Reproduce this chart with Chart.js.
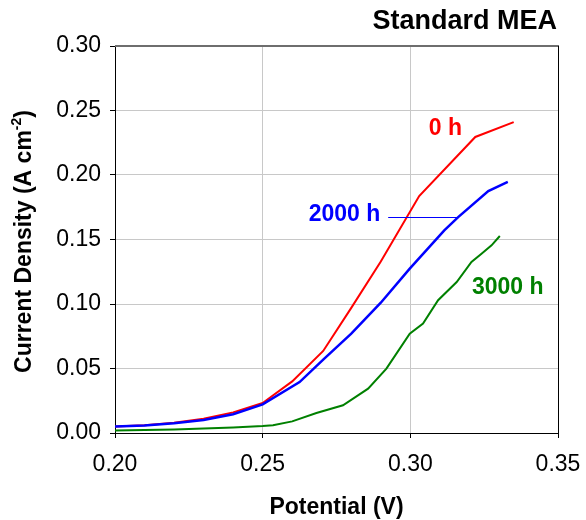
<!DOCTYPE html>
<html>
<head>
<meta charset="utf-8">
<script src="https://cdn.jsdelivr.net/npm/chart.js@4.4.0/dist/chart.umd.min.js"></script>
<style>
html,body{margin:0;padding:0;background:#fff;}
#wrap{width:586px;height:520px;position:relative;}
</style>
</head>
<body>
<div id="wrap"><canvas id="c" width="586" height="520"></canvas></div>
<script>
// ---- data ----
const potential0h = [0.200, 0.210, 0.220, 0.230, 0.240, 0.250, 0.260, 0.2705, 0.280, 0.290, 0.303, 0.322, 0.335];
const current0h   = [0.0050, 0.0060, 0.0080, 0.0110, 0.0160, 0.0233, 0.0400, 0.0636, 0.0970, 0.1330, 0.1837, 0.2295, 0.2410];

const potential2000h = [0.200, 0.210, 0.220, 0.230, 0.240, 0.250, 0.2625, 0.2705, 0.280, 0.290, 0.2998, 0.3115, 0.3162, 0.3264, 0.333];
const current2000h   = [0.0050, 0.0058, 0.0076, 0.0100, 0.0145, 0.0222, 0.0395, 0.0569, 0.0770, 0.1010, 0.1274, 0.1570, 0.1674, 0.1876, 0.1946];

const potential3000h = [0.200, 0.220, 0.240, 0.250, 0.2535, 0.260, 0.2682, 0.2772, 0.2857, 0.2919, 0.2998, 0.3043, 0.3094, 0.3157, 0.3207, 0.3241, 0.3275, 0.3303];
const current3000h   = [0.0020, 0.0028, 0.0042, 0.0054, 0.0060, 0.0090, 0.0155, 0.0215, 0.0344, 0.0499, 0.0770, 0.0848, 0.1029, 0.1170, 0.1326, 0.1390, 0.1455, 0.1527];

const xTickValues = [0.20, 0.25, 0.30, 0.35];
const yTickValues = [0.00, 0.05, 0.10, 0.15, 0.20, 0.25, 0.30];

const seriesLabels = ["0 h", "2000 h", "3000 h"];
const chartTitle = "Standard MEA";
const xTitle = "Potential (V)";
const yTitleMain = "Current Density (A cm";
const yTitleSup = "-2";

function pairs(xs, ys){ return xs.map((x,i)=>({x:x, y:ys[i]})); }

const FONT = "'Liberation Sans', Arial, sans-serif";

const decor = {
  id: 'decor',
  afterDatasetsDraw(chart){
    const ctx = chart.ctx, a = chart.chartArea;
    const xs = chart.scales.x, ys = chart.scales.y;
    ctx.save();
    // top border (gray) and right border (black)
    ctx.strokeStyle = '#6e6e6e'; ctx.lineWidth = 2;
    ctx.beginPath(); ctx.moveTo(a.left, a.top); ctx.lineTo(a.right+1, a.top); ctx.stroke();
    ctx.strokeStyle = '#000'; ctx.lineWidth = 1;
    ctx.beginPath(); ctx.moveTo(a.right+0.5, a.top); ctx.lineTo(a.right+0.5, a.bottom+5); ctx.stroke();

    // chart title
    ctx.fillStyle = '#000';
    ctx.font = "bold 27px " + FONT;
    ctx.textAlign = 'right'; ctx.textBaseline = 'middle';
    ctx.fillText(chartTitle, 557, 22);

    // x title
    ctx.font = "bold 23px " + FONT;
    ctx.textAlign = 'center';
    ctx.fillText(xTitle, (a.left + a.right)/2, 508);

    // y title with superscript
    ctx.save();
    ctx.translate(25, (a.top + a.bottom)/2 + 2);
    ctx.rotate(-Math.PI/2);
    ctx.font = "bold 23px " + FONT;
    const w1 = ctx.measureText(yTitleMain).width;
    const w3 = ctx.measureText(")").width;
    ctx.font = "bold 14px " + FONT;
    const w2 = ctx.measureText(yTitleSup).width;
    const tot = w1 + w2 + w3;
    let px = -tot/2;
    ctx.textAlign = 'left'; ctx.textBaseline = 'middle';
    ctx.font = "bold 23px " + FONT;
    ctx.fillText(yTitleMain, px, 0); px += w1;
    ctx.font = "bold 14px " + FONT;
    ctx.fillText(yTitleSup, px, -8); px += w2;
    ctx.font = "bold 23px " + FONT;
    ctx.fillText(")", px, 0);
    ctx.restore();

    // series labels
    ctx.font = "bold 23px " + FONT;
    ctx.textAlign = 'center'; ctx.textBaseline = 'middle';
    ctx.fillStyle = '#ff0000';
    ctx.fillText(seriesLabels[0], xs.getPixelForValue(0.3119), ys.getPixelForValue(0.236));
    ctx.fillStyle = '#0000ff';
    ctx.fillText(seriesLabels[1], xs.getPixelForValue(0.2777), ys.getPixelForValue(0.1695));
    ctx.fillStyle = '#008000';
    ctx.fillText(seriesLabels[2], xs.getPixelForValue(0.3330), ys.getPixelForValue(0.1130));
    // leader line for 2000 h
    ctx.strokeStyle = '#0000ff'; ctx.lineWidth = 1;
    const ly = Math.round(ys.getPixelForValue(0.1674)) + 0.5;
    ctx.beginPath();
    ctx.moveTo(xs.getPixelForValue(0.2925), ly);
    ctx.lineTo(xs.getPixelForValue(0.3162), ly);
    ctx.stroke();
    ctx.restore();
  }
};

new Chart(document.getElementById('c'), {
  type: 'scatter',
  data: {
    datasets: [
      { label: seriesLabels[1], data: pairs(potential2000h, current2000h), showLine: true, borderColor: '#0000ff', borderWidth: 2.5, pointRadius: 0, tension: 0 },
      { label: seriesLabels[0], data: pairs(potential0h, current0h), showLine: true, borderColor: '#ff0000', borderWidth: 2, pointRadius: 0, tension: 0 },
      { label: seriesLabels[2], data: pairs(potential3000h, current3000h), showLine: true, borderColor: '#008000', borderWidth: 2, pointRadius: 0, tension: 0 }
    ]
  },
  options: {
    responsive: false,
    animation: false,
    devicePixelRatio: 1,
    layout: { padding: { left: 0, top: 46, right: 28, bottom: 37 } },
    plugins: { legend: { display: false }, tooltip: { enabled: false } },
    scales: {
      x: {
        type: 'linear', min: 0.20, max: 0.35,
        afterBuildTicks(s){ s.ticks = xTickValues.map(v=>({value:v})); },
        afterFit(s){ s.height = 50; s.paddingLeft = 0; s.paddingRight = 0; },
        grid: { color: '#c8c8c8', lineWidth: 1, tickLength: 5, tickColor: '#000' },
        border: { color: '#000', width: 1 },
        ticks: { color: '#000', font: { family: FONT, size: 23 }, padding: 13, maxRotation: 0,
                 callback: v => v.toFixed(2) }
      },
      y: {
        type: 'linear', min: 0, max: 0.30,
        afterBuildTicks(s){ s.ticks = yTickValues.map(v=>({value:v})); },
        afterFit(s){ s.width = 115; s.paddingTop = 0; s.paddingBottom = 0; },
        grid: { color: '#c8c8c8', lineWidth: 1, tickLength: 5, tickColor: '#000' },
        border: { color: '#000', width: 1 },
        ticks: { color: '#000', font: { family: FONT, size: 23 }, padding: 9,
                 callback: v => v.toFixed(2) }
      }
    }
  },
  plugins: [decor]
});
</script>
</body>
</html>
